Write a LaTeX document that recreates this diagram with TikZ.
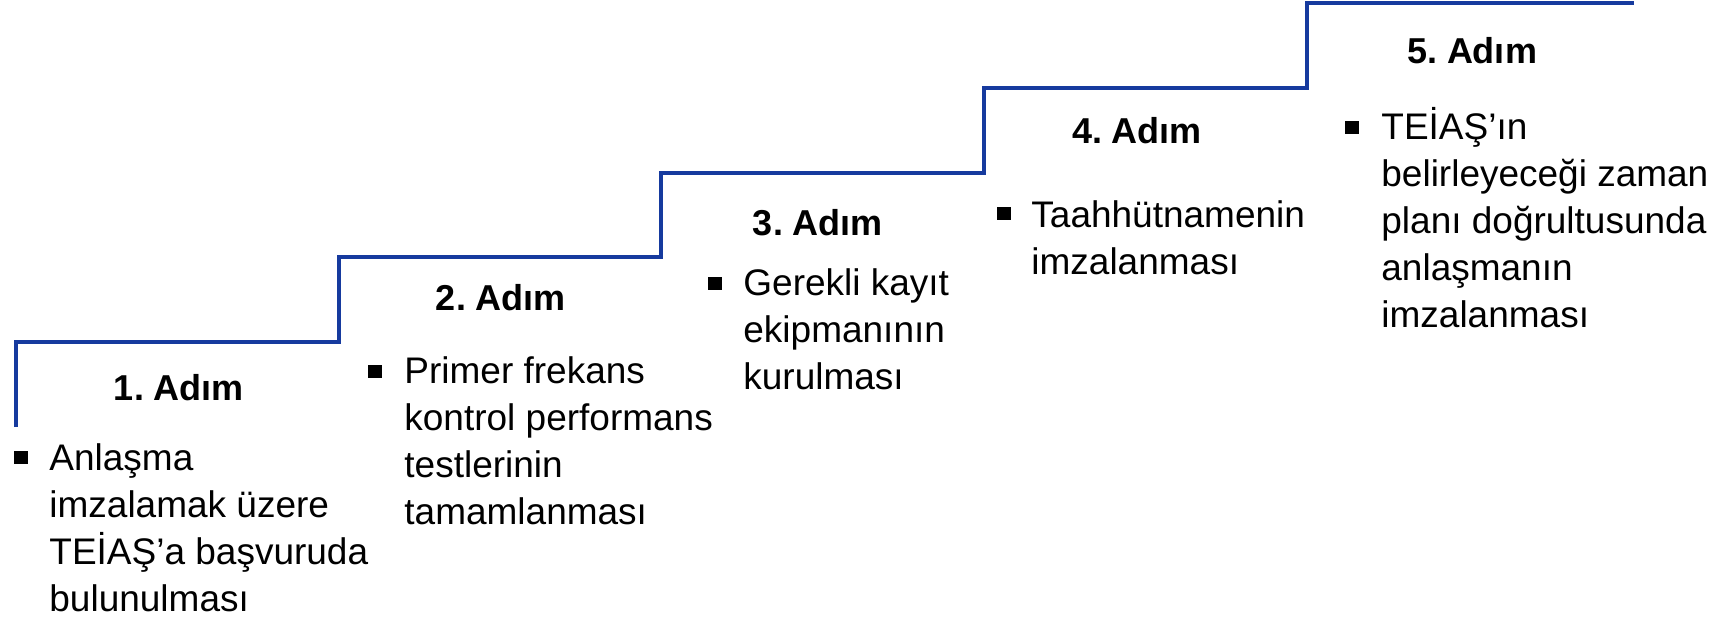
\documentclass[tikz,border=0pt]{standalone}
\usepackage{fontspec}
\setmainfont{Liberation Sans}
\definecolor{stairblue}{RGB}{22,58,158}
\frenchspacing
\begin{document}
\begin{tikzpicture}[x=0.5pt, y=-0.5pt,
  head/.style={font=\fontsize{18}{22}\selectfont\bfseries, anchor=base, inner sep=0pt},
  txt/.style={font=\fontsize{18.5}{23.5}\selectfont, align=left, anchor=north west, inner sep=0pt},
  sq/.style={fill=black, minimum width=7pt, minimum height=6.5pt, inner sep=0pt}]
\useasboundingbox (0,0) rectangle (1728,621);
% the stairs
\draw[stairblue, line width=1.6pt] (16,427) -- (16,342) -- (339,342) -- (339,257)
  -- (661,257) -- (661,173) -- (984,173) -- (984,88) -- (1307,88) -- (1307,3) -- (1634,3);
% step titles
\node[head] (h1) at (179,400) {1. Adım};
\node[head] (h2) at (501,310) {2. Adım};
\node[head] (h3) at (818,235) {3. Adım};
\node[head] (h4) at (1137,143) {4. Adım};
\node[head] (h5) at (1472,63) {5. Adım};
% bullets
\node[sq] (s1) at (21,457) {};
\node[sq] (s2) at (375,371) {};
\node[sq] (s3) at (715,283) {};
\node[sq] (s4) at (1004,213) {};
\node[sq] (s5) at (1352,127) {};
% step texts
\node[txt] (t1) at (49,434) {\rule{0pt}{18pt}Anlaşma\\imzalamak üzere\\TEİAŞ’a başvuruda\\bulunulması};
\node[txt] (t2) at (404,347) {\rule{0pt}{18pt}Primer frekans\\kontrol performans\\testlerinin\\tamamlanması};
\node[txt] (t3) at (743,259) {\rule{0pt}{18pt}Gerekli kayıt\\ekipmanının\\kurulması};
\node[txt] (t4) at (1031,191) {\rule{0pt}{18pt}Taahhütnamenin\\imzalanması};
\node[txt] (t5) at (1381,103) {\rule{0pt}{18pt}TEİAŞ’ın\\belirleyeceği zaman\\planı doğrultusunda\\anlaşmanın\\imzalanması};
\end{tikzpicture}
\end{document}
